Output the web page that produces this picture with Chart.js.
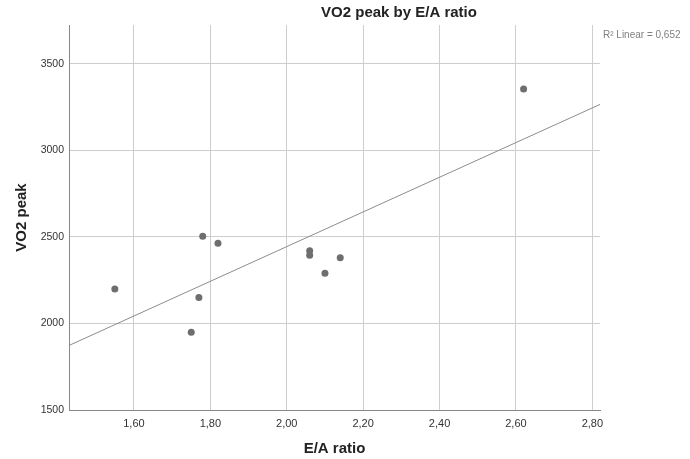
<!DOCTYPE html>
<html>
<head>
<meta charset="utf-8">
<script src="https://cdn.jsdelivr.net/npm/chart.js@4"></script>
<style>
  html, body { margin: 0; padding: 0; background: #fff; }
  #wrap { width: 690px; height: 459px; position: relative; }
</style>
</head>
<body>
<div id="wrap"><canvas id="c" width="690" height="459"></canvas></div>
<script>
// Data
const eaRatio = [1.55, 1.78, 1.82, 1.77, 1.75, 2.06, 2.06, 2.10, 2.14, 2.62];
const vo2Peak = [2200, 2504, 2463, 2150, 1950, 2420, 2395, 2290, 2380, 3355];
// Fit line endpoints as drawn in the reference (x, y)
const fitX = [1.43, 2.82];
const fitY = [1873, 3266];
const xTicks = [1.6, 1.8, 2.0, 2.2, 2.4, 2.6, 2.8];
const yTicks = [1500, 2000, 2500, 3000, 3500];
const chartTitle = 'VO2 peak by E/A ratio';
const fitLabel = 'R\u00B2 Linear = 0,652';
const xTitle = 'E/A ratio';
const yTitle = 'VO2 peak';

const FONT = "'Liberation Sans', Arial, sans-serif";

const textPlugin = {
  id: 'texts',
  afterDraw(chart) {
    const ctx = chart.ctx;
    ctx.save();
    ctx.fillStyle = '#222';
    ctx.font = 'bold 15px ' + FONT;
    ctx.textAlign = 'center';
    ctx.textBaseline = 'middle';
    ctx.fillText(chartTitle, 399, 13);
    ctx.fillStyle = '#808080';
    ctx.font = '10px ' + FONT;
    ctx.textAlign = 'left';
    ctx.fillText(fitLabel, 603, 35);
    ctx.restore();
  }
};

const scatterData = eaRatio.map((x, i) => ({ x: x, y: vo2Peak[i] }));
const fitData = fitX.map((x, i) => ({ x: x, y: fitY[i] }));

new Chart(document.getElementById('c'), {
  type: 'scatter',
  data: {
    datasets: [
      {
        label: 'Fit',
        data: fitData,
        showLine: true,
        borderColor: '#8c8c8c',
        borderWidth: 1,
        pointRadius: 0,
        fill: false,
        order: 2
      },
      {
        label: 'VO2 peak',
        data: scatterData,
        backgroundColor: '#6e6e6e',
        borderColor: '#6e6e6e',
        borderWidth: 0,
        pointRadius: 3.5,
        order: 1
      }
    ]
  },
  options: {
    responsive: false,
    animation: false,
    devicePixelRatio: 1,
    layout: { padding: { top: 25, right: 90, left: 0, bottom: 0 } },
    plugins: {
      legend: { display: false },
      tooltip: { enabled: false },
      title: { display: false }
    },
    scales: {
      x: {
        type: 'linear',
        min: 1.43,
        max: 2.82,
        afterBuildTicks(axis) { axis.ticks = xTicks.map(v => ({ value: v })); },
        afterFit(axis) { axis.height = 49; },
        grid: { color: '#cdcdcd', lineWidth: 1, drawTicks: false },
        border: { display: true, color: '#888888', width: 1 },
        ticks: {
          padding: 7,
          color: '#333',
          font: { family: FONT, size: 11 },
          callback: v => v.toFixed(2).replace('.', ',')
        },
        title: {
          display: true,
          text: xTitle,
          color: '#222',
          font: { family: FONT, size: 15, weight: 'bold' },
          padding: { top: 0, bottom: 1 }
        }
      },
      y: {
        type: 'linear',
        min: 1500,
        max: 3725,
        afterBuildTicks(axis) { axis.ticks = yTicks.map(v => ({ value: v })); },
        afterFit(axis) { axis.width = 69; },
        grid: { color: '#cdcdcd', lineWidth: 1, drawTicks: false },
        border: { display: true, color: '#888888', width: 1 },
        ticks: {
          padding: 5,
          color: '#333',
          font: { family: FONT, size: 10.5 },
          callback: v => String(v)
        },
        title: {
          display: true,
          text: yTitle,
          color: '#222',
          font: { family: FONT, size: 15, weight: 'bold' },
          padding: { top: 13, bottom: 0 }
        }
      }
    }
  },
  plugins: [textPlugin]
});
</script>
</body>
</html>
